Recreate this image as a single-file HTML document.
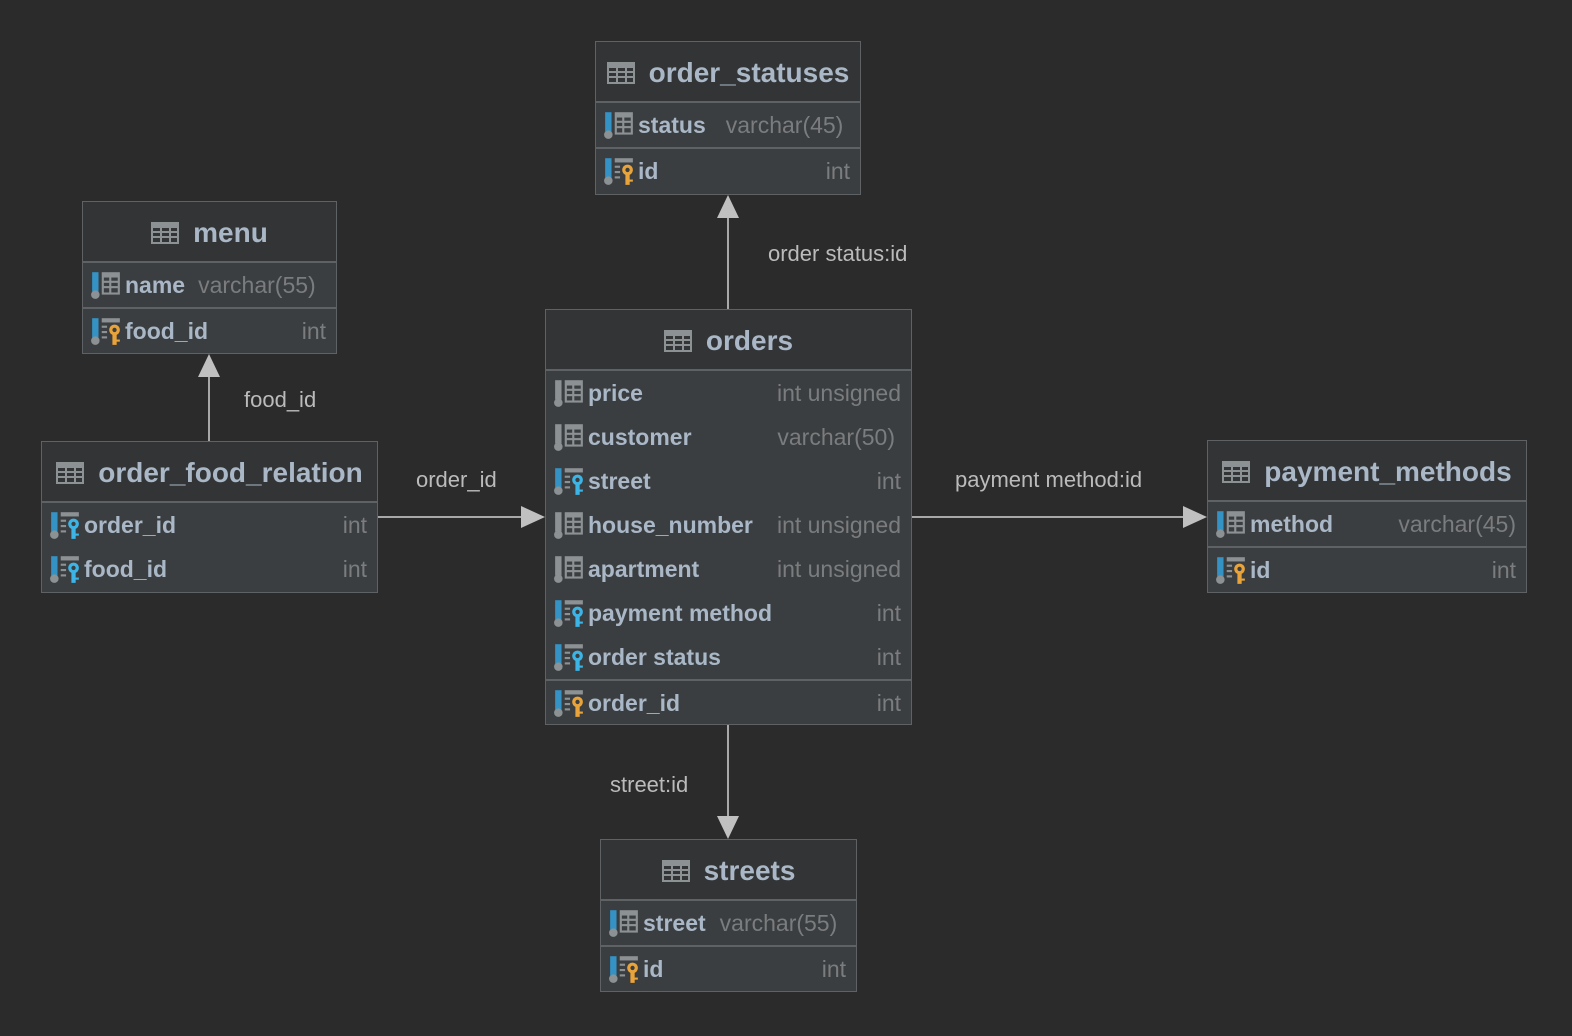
<!DOCTYPE html>
<html><head><meta charset="utf-8"><style>
body{margin:0;width:1572px;height:1036px;background:#2b2b2b;overflow:hidden;font-family:"Liberation Sans",sans-serif;position:relative}
.t{position:absolute;background:#3b3e40;border:1px solid #5f6264;box-sizing:border-box}
.h{height:61px;padding-top:2px;background:#323436;border-bottom:2px solid #5f6264;box-sizing:border-box;display:flex;align-items:center;justify-content:center;color:#a9b7c6;font-weight:bold;font-size:28px}
.h svg{margin-right:14px}
.r{height:44px;display:flex;align-items:center;padding:0 10px 0 7px;position:relative;color:#a9b7c6;font-weight:bold;font-size:23px}
.r svg{margin-right:3px;flex:none}
.ty{margin-left:auto;color:#7a7c7e;font-weight:normal;font-size:23px}
.sep{border-top:2px solid #5f6264}
.lbl{position:absolute;color:#bbbbbb;font-size:22px}
</style></head><body>
<svg width="0" height="0" style="position:absolute">
<defs>
<symbol id="tb" viewBox="0 0 28 22"><rect x="0" y="0" width="28" height="22" fill="#8c9193"/><g fill="#323436"><rect x="2" y="6" width="7" height="3"/><rect x="11" y="6" width="7" height="3"/><rect x="20" y="6" width="6" height="3"/><rect x="2" y="11" width="7" height="3"/><rect x="11" y="11" width="7" height="3"/><rect x="20" y="11" width="6" height="3"/><rect x="2" y="16" width="7" height="4"/><rect x="11" y="16" width="7" height="4"/><rect x="20" y="16" width="6" height="4"/></g></symbol>
<symbol id="cg" viewBox="0 0 30 30"><rect x="2" y="3" width="6" height="18" fill="#8c9193"/><circle cx="5" cy="24" r="4" fill="#8c9193"/><rect x="11" y="3" width="17" height="21" fill="#8c9193"/><g fill="#3b3e40"><rect x="13" y="8" width="5" height="3"/><rect x="20" y="8" width="6" height="3"/><rect x="13" y="13" width="5" height="3"/><rect x="20" y="13" width="6" height="3"/><rect x="13" y="18" width="5" height="4"/><rect x="20" y="18" width="6" height="4"/></g></symbol>
<symbol id="cb" viewBox="0 0 30 30"><rect x="2" y="3" width="6" height="18" fill="#3592c4"/><circle cx="5" cy="24" r="4" fill="#8c9193"/><rect x="11" y="3" width="17" height="21" fill="#8c9193"/><g fill="#3b3e40"><rect x="13" y="8" width="5" height="3"/><rect x="20" y="8" width="6" height="3"/><rect x="13" y="13" width="5" height="3"/><rect x="20" y="13" width="6" height="3"/><rect x="13" y="18" width="5" height="4"/><rect x="20" y="18" width="6" height="4"/></g></symbol>
<symbol id="fk" viewBox="0 0 30 30"><rect x="2" y="3" width="6" height="18" fill="#3592c4"/><circle cx="5" cy="24" r="4" fill="#8c9193"/><rect x="11" y="3" width="17" height="4" fill="#8c9193"/><rect x="11" y="10" width="5" height="2" fill="#8c9193"/><rect x="11" y="15" width="5" height="2" fill="#8c9193"/><rect x="11" y="20" width="5" height="2" fill="#8c9193"/><circle cx="23" cy="14" r="5" fill="#3cb4e6"/><circle cx="23" cy="14" r="2" fill="#3b3e40"/><rect x="21" y="17" width="4" height="11" fill="#3cb4e6"/><rect x="24" y="23" width="4" height="2" fill="#3cb4e6"/></symbol>
<symbol id="pk" viewBox="0 0 30 30"><rect x="2" y="3" width="6" height="18" fill="#3592c4"/><circle cx="5" cy="24" r="4" fill="#8c9193"/><rect x="11" y="3" width="17" height="4" fill="#8c9193"/><rect x="11" y="10" width="5" height="2" fill="#8c9193"/><rect x="11" y="15" width="5" height="2" fill="#8c9193"/><rect x="11" y="20" width="5" height="2" fill="#8c9193"/><circle cx="23" cy="14" r="5" fill="#e8a33a"/><circle cx="23" cy="14" r="2" fill="#3b3e40"/><rect x="21" y="17" width="4" height="11" fill="#e8a33a"/><rect x="24" y="23" width="4" height="2" fill="#e8a33a"/></symbol>
</defs></svg>

<svg style="position:absolute;left:0;top:0" width="1572" height="1036">
<g stroke="#a8a8a8" stroke-width="2" fill="none">
<line x1="728" y1="309" x2="728" y2="216"/>
<line x1="209" y1="441" x2="209" y2="375"/>
<line x1="728" y1="724" x2="728" y2="818"/>
<line x1="377" y1="517" x2="523" y2="517"/>
<line x1="911" y1="517" x2="1185" y2="517"/>
</g>
<g fill="#c0c0c0">
<polygon points="728,195 717,218 739,218"/>
<polygon points="209,354 198,377 220,377"/>
<polygon points="728,839 717,816 739,816"/>
<polygon points="545,517 521,506 521,528"/>
<polygon points="1207,517 1183,506 1183,528"/>
</g>
</svg>

<div class="lbl" style="left:768px;top:241px">order status:id</div>
<div class="lbl" style="left:244px;top:387px">food_id</div>
<div class="lbl" style="left:416px;top:467px">order_id</div>
<div class="lbl" style="left:955px;top:467px">payment method:id</div>
<div class="lbl" style="left:610px;top:772px">street:id</div>

<div class="t" style="left:595px;top:41px;width:266px;height:154px">
<div class="h"><svg width="28" height="22"><use href="#tb"/></svg>order_statuses</div>
<div class="r"><svg width="32" height="32"><use href="#cb"/></svg>status<span class="ty" style="margin-left:20px">varchar(45)</span></div>
<div class="r sep"><svg width="32" height="32"><use href="#pk"/></svg>id<span class="ty">int</span></div>
</div>

<div class="t" style="left:82px;top:201px;width:255px;height:153px">
<div class="h"><svg width="28" height="22"><use href="#tb"/></svg>menu</div>
<div class="r"><svg width="32" height="32"><use href="#cb"/></svg>name<span class="ty" style="margin-left:13px">varchar(55)</span></div>
<div class="r sep"><svg width="32" height="32"><use href="#pk"/></svg>food_id<span class="ty">int</span></div>
</div>

<div class="t" style="left:545px;top:309px;width:367px;height:416px">
<div class="h"><svg width="28" height="22"><use href="#tb"/></svg>orders</div>
<div class="r"><svg width="32" height="32"><use href="#cg"/></svg>price<span class="ty">int unsigned</span></div>
<div class="r"><svg width="32" height="32"><use href="#cg"/></svg>customer<span class="ty" style="margin-right:6px">varchar(50)</span></div>
<div class="r"><svg width="32" height="32"><use href="#fk"/></svg>street<span class="ty">int</span></div>
<div class="r"><svg width="32" height="32"><use href="#cg"/></svg>house_number<span class="ty">int unsigned</span></div>
<div class="r"><svg width="32" height="32"><use href="#cg"/></svg>apartment<span class="ty">int unsigned</span></div>
<div class="r"><svg width="32" height="32"><use href="#fk"/></svg>payment method<span class="ty">int</span></div>
<div class="r"><svg width="32" height="32"><use href="#fk"/></svg>order status<span class="ty">int</span></div>
<div class="r sep"><svg width="32" height="32"><use href="#pk"/></svg>order_id<span class="ty">int</span></div>
</div>

<div class="t" style="left:41px;top:441px;width:337px;height:152px">
<div class="h"><svg width="28" height="22"><use href="#tb"/></svg>order_food_relation</div>
<div class="r"><svg width="32" height="32"><use href="#fk"/></svg>order_id<span class="ty">int</span></div>
<div class="r"><svg width="32" height="32"><use href="#fk"/></svg>food_id<span class="ty">int</span></div>
</div>

<div class="t" style="left:1207px;top:440px;width:320px;height:153px">
<div class="h"><svg width="28" height="22"><use href="#tb"/></svg>payment_methods</div>
<div class="r"><svg width="32" height="32"><use href="#cb"/></svg>method<span class="ty">varchar(45)</span></div>
<div class="r sep"><svg width="32" height="32"><use href="#pk"/></svg>id<span class="ty">int</span></div>
</div>

<div class="t" style="left:600px;top:839px;width:257px;height:153px">
<div class="h"><svg width="28" height="22"><use href="#tb"/></svg>streets</div>
<div class="r"><svg width="32" height="32"><use href="#cb"/></svg>street<span class="ty" style="margin-left:14px">varchar(55)</span></div>
<div class="r sep"><svg width="32" height="32"><use href="#pk"/></svg>id<span class="ty">int</span></div>
</div>
</body></html>
